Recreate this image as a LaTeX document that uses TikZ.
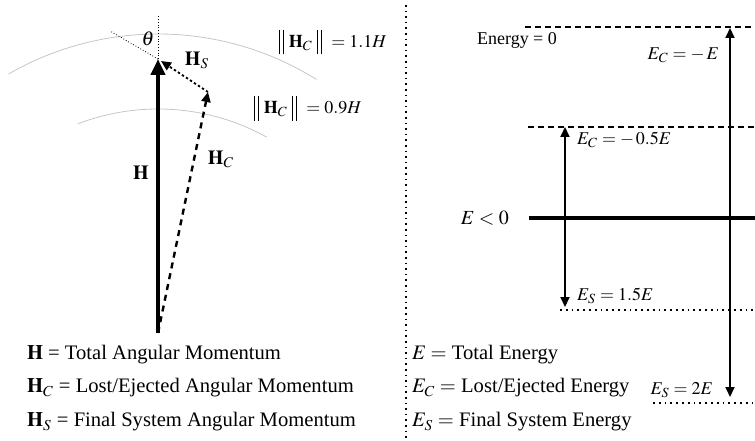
\documentclass[tikz,border=0pt]{standalone}
\usepackage{amsmath,amssymb}
\usepackage{mathptmx}
\usepackage{fontspec}
\setmainfont{Liberation Serif}
\usepackage{tikz}
\usetikzlibrary{calc,arrows.meta}

% подвійна риска норми
\newcommand{\normbar}{\rule[-3.5pt]{0.5pt}{12.5pt}\hspace{1.6pt}\rule[-3.5pt]{0.5pt}{12.5pt}}

\begin{document}
\begin{tikzpicture}[x=0.5pt,y=0.5pt,
        thinarrow/.style={line width=1pt,-{Triangle[length=5pt,width=4.5pt]}},
        dashlevel/.style={line width=1.1pt,dash pattern=on 3pt off 2pt},
        dotlevel/.style={dotted,line width=0.9pt},
        legend/.style={right,font=\fontsize{10.3pt}{12pt}\selectfont},
        lbl/.style={font=\small}]
        % Рамка рисунка 755x440
        \useasboundingbox (0,0) rectangle (755,440);

        % Ліва частина: момент імпульсу
        \coordinate (O) at (158,107);   % початок векторів
        \coordinate (H) at (158,381);   % кінець H
        \coordinate (C) at (208,348);   % кінець H_C
        \coordinate (T) at (158,424);   % вертикаль над H
        \coordinate (P) at (110,409);   % продовження H_S

        % Кола |H_C| = 1.1H і 0.9H
        \draw[gray!45] ($(O)+(120:299)$) arc (120:58:299);
        \draw[gray!45] ($(O)+(111:224)$) arc (111:61:224);

        % Допоміжні лінії для кута
        \draw[densely dotted] (H) -- (T);
        \draw[densely dotted] (H) -- (P);

        % Вектори
        \draw[line width=2pt,-{Triangle[length=8pt,width=7pt]}] (O) -- (H);
        \draw[thinarrow,line width=1.2pt,dash pattern=on 3pt off 2.5pt] (O) -- (C);
        \draw[thinarrow,line width=0.9pt,dash pattern=on 1.2pt off 1.2pt] (C) -- ($(H)+(3,-2)$);

        % Підписи
        \node (theta) at (148,401) {$\theta$};
        \node (lHS) at (197,380) {$\mathbf{H}_S$};
        \node (lHC) at (221,281) {$\mathbf{H}_C$};
        \node (lH) at (141,267) {$\mathbf{H}$};
        \node[lbl,right] (r1) at (272,398) {\normbar\ $\mathbf{H}_C$\ \normbar\ \ $= 1.1H$};
        \node[lbl,right] (r2) at (247,332) {\normbar\ $\mathbf{H}_C$\ \normbar\ \ $= 0.9H$};

        % Легенда зліва
        \node[legend] (k1) at (20,85) {$\mathbf{H}$ = Total Angular Momentum};
        \node[legend] (k2) at (20,52) {$\mathbf{H}_C$ = Lost/Ejected Angular Momentum};
        \node[legend] (k3) at (20,18) {$\mathbf{H}_S$ = Final System Angular Momentum};

        % Розділювач
        \draw[dotted,line width=0.8pt] (406,435) -- (406,0);

        % Права частина: енергія
        \coordinate (Z1) at (525,413);  \coordinate (Z2) at (755,413);   % 0
        \coordinate (M1) at (528,313);  \coordinate (M2) at (755,313);   % 0.5E
        \coordinate (E1) at (529,222);  \coordinate (E2) at (755,222);   % E
        \coordinate (S1) at (560,130);  \coordinate (S2) at (755,130);   % 1.5E
        \coordinate (D1) at (653,37);   \coordinate (D2) at (755,37);    % 2E

        \draw[dashlevel] (Z1) -- (Z2);
        \draw[dashlevel] (M1) -- (M2);
        \draw[line width=1.8pt] (E1) -- (E2);
        \draw[dotlevel] (S1) -- (S2);
        \draw[dotlevel] (D1) -- (D2);

        % Стрілки переходів
        \draw[thinarrow] (565,222) -- (565,313);
        \draw[thinarrow] (565,222) -- (565,133);
        \draw[thinarrow] (730,222) -- (730,412);
        \draw[thinarrow] (730,222) -- (730,43);

        % Підписи рівнів
        \node[lbl] (e0) at (517,400) {Energy = 0};
        \node[lbl,left] (e1) at (726,385) {$E_C = -\,E$};
        \node[lbl,right] (e2) at (570,300) {$E_C = -\,0.5E$};
        \node[left] (e3) at (516,222) {$E < 0$};
        \node[lbl,right] (e4) at (570,144) {$E_S = 1.5E$};
        \node[lbl,left] (e5) at (720,50) {$E_S = 2E$};

        % Легенда справа
        \node[legend] (q1) at (405,85) {$E =$ Total Energy};
        \node[legend] (q2) at (405,52) {$E_C =$ Lost/Ejected Energy};
        \node[legend] (q3) at (405,18) {$E_S =$ Final System Energy};
    \end{tikzpicture}
\end{document}
